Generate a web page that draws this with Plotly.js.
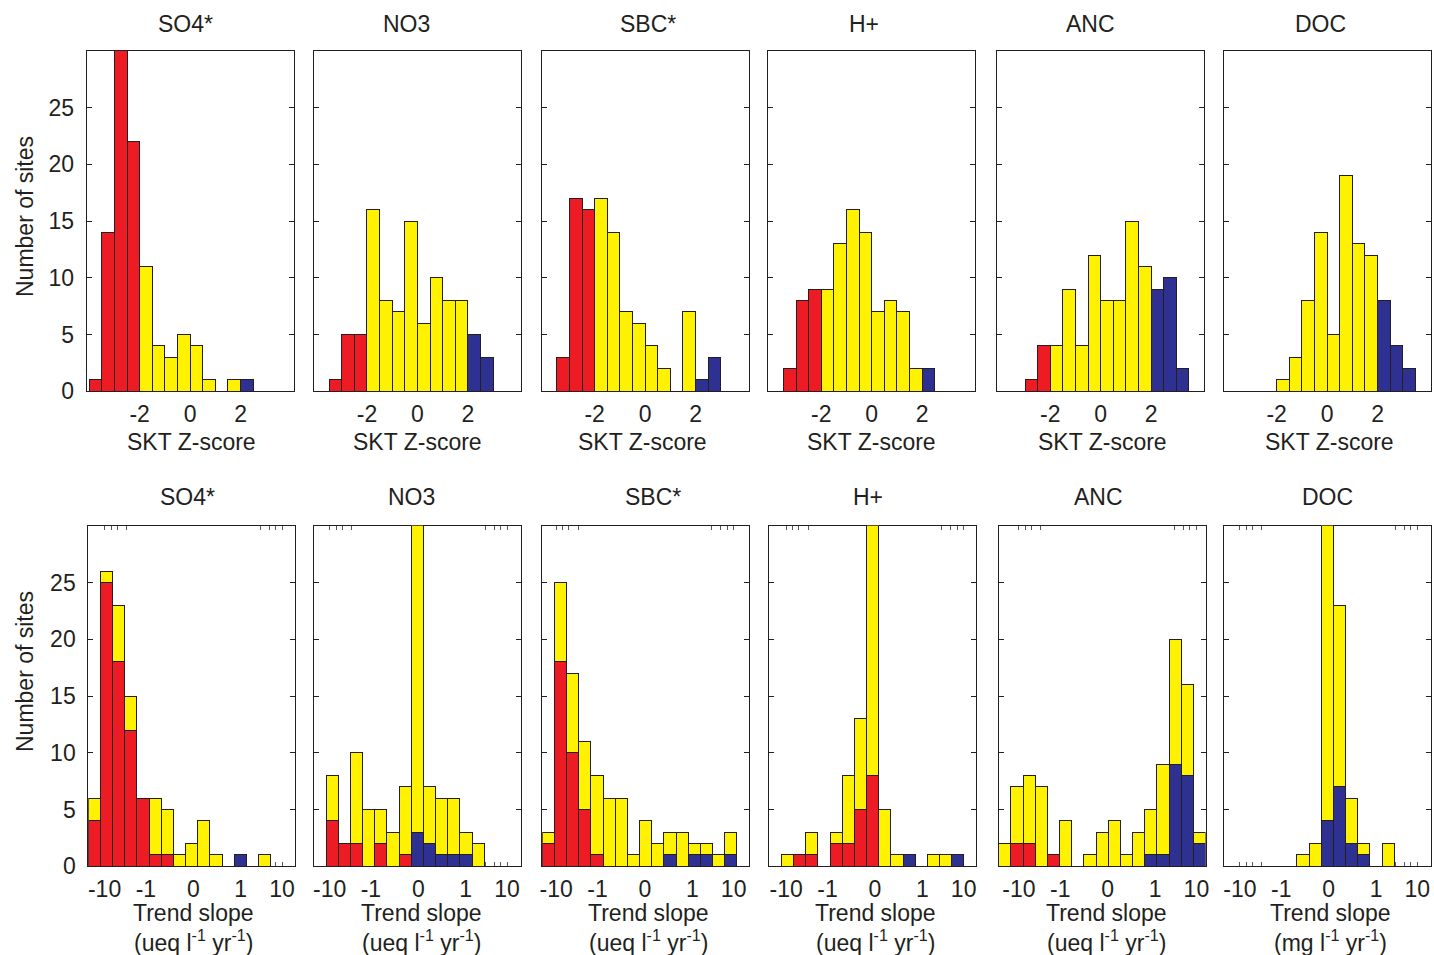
<!DOCTYPE html>
<html><head><meta charset="utf-8">
<script src="https://cdn.plot.ly/plotly-3.0.1.min.js"></script>
<style>html,body{margin:0;padding:0;background:#fff}</style>
</head><body><div id="chart" style="width:1434px;height:955px"></div>
<script>
// ---------------- DATA ----------------
const variables = ['SO4*', 'NO3', 'SBC*', 'H+', 'ANC', 'DOC'];
const trendUnits = ['(ueq l<sup>-1</sup> yr<sup>-1</sup>)', '(ueq l<sup>-1</sup> yr<sup>-1</sup>)',
  '(ueq l<sup>-1</sup> yr<sup>-1</sup>)', '(ueq l<sup>-1</sup> yr<sup>-1</sup>)',
  '(ueq l<sup>-1</sup> yr<sup>-1</sup>)', '(mg l<sup>-1</sup> yr<sup>-1</sup>)'];

// SKT Z-score histograms: 16 bins of 0.5 from -4 to 4
const zBinStart = -4, zBinWidth = 0.5;
const zSO4 = [1, 14, 32, 22, 11, 4, 3, 5, 4, 1, 0, 1, 1, 0, 0, 0];
const zNO3 = [0, 1, 5, 5, 16, 8, 7, 15, 6, 10, 8, 8, 5, 3, 0, 0];
const zSBC = [0, 3, 17, 16, 17, 14, 7, 6, 4, 2, 0, 7, 1, 3, 0, 0];
const zH   = [0, 2, 8, 9, 9, 13, 16, 14, 7, 8, 7, 2, 2, 0, 0, 0];
const zANC = [0, 0, 1, 4, 4, 9, 4, 12, 8, 8, 15, 11, 9, 10, 2, 0];
const zDOC = [0, 0, 0, 0, 1, 3, 8, 14, 5, 19, 13, 12, 8, 4, 2, 0];
const zTicks = [-2, 0, 2];

// Trend slope histograms: 17 bins; significant decrease / not significant / significant increase
const slopeTickValues = [-10, -1, 0, 1, 10];
const slopeTickLabels = ['-10', '-1', '0', '1', '10'];
const slopeMinorValues = [-10, -7, -5, -3, 3, 5, 7, 10];
const tSO4_down = [4, 25, 18, 12, 6, 1, 1, 0, 0, 0, 0, 0, 0, 0, 0, 0, 0];
const tSO4_ns   = [2, 1, 5, 3, 0, 5, 4, 1, 2, 4, 1, 0, 0, 0, 1, 0, 0];
const tSO4_up   = [0, 0, 0, 0, 0, 0, 0, 0, 0, 0, 0, 0, 1, 0, 0, 0, 0];
const tNO3_down = [0, 4, 2, 2, 0, 2, 0, 1, 0, 0, 0, 0, 0, 0, 0, 0, 0];
const tNO3_ns   = [0, 4, 0, 8, 5, 3, 3, 6, 29, 5, 5, 5, 2, 2, 0, 0, 0];
const tNO3_up   = [0, 0, 0, 0, 0, 0, 0, 0, 3, 2, 1, 1, 1, 0, 0, 0, 0];
const tSBC_down = [2, 18, 10, 5, 1, 0, 0, 0, 0, 0, 0, 0, 0, 0, 0, 0, 0];
const tSBC_ns   = [1, 7, 7, 6, 7, 6, 6, 1, 4, 2, 2, 3, 1, 1, 1, 2, 0];
const tSBC_up   = [0, 0, 0, 0, 0, 0, 0, 0, 0, 0, 1, 0, 1, 1, 0, 1, 0];
const tH_down   = [0, 0, 1, 1, 0, 2, 2, 5, 8, 0, 0, 0, 0, 0, 0, 0, 0];
const tH_ns     = [0, 1, 0, 2, 0, 1, 6, 8, 24, 5, 1, 0, 0, 1, 1, 0, 0];
const tH_up     = [0, 0, 0, 0, 0, 0, 0, 0, 0, 0, 0, 1, 0, 0, 0, 1, 0];
const tANC_down = [0, 2, 2, 0, 1, 0, 0, 0, 0, 0, 0, 0, 0, 0, 0, 0, 0];
const tANC_ns   = [2, 5, 6, 7, 0, 4, 0, 1, 3, 4, 1, 3, 4, 8, 11, 8, 1];
const tANC_up   = [0, 0, 0, 0, 0, 0, 0, 0, 0, 0, 0, 0, 1, 1, 9, 8, 2];
const tDOC_down = [0, 0, 0, 0, 0, 0, 0, 0, 0, 0, 0, 0, 0, 0, 0, 0, 0];
const tDOC_ns   = [0, 0, 0, 0, 0, 0, 1, 2, 28, 16, 4, 1, 0, 2, 0, 0, 0];
const tDOC_up   = [0, 0, 0, 0, 0, 0, 0, 0, 4, 7, 2, 1, 0, 0, 0, 0, 0];

// ---------------- CONFIG ----------------
const W = 1434, H = 955;
const RED = '#ED1C24', YEL = '#FFF200', BLU = '#2E3192', EDGE = '#231F20', TXT = '#231F20';
const FONT = 'Liberation Sans, Arial, Helvetica, sans-serif';
const FS = 23;
const topLeft = [86.7, 314, 541.7, 768.3, 997.3, 1223.7];
const botLeft = [88.3, 314, 542.3, 769.3, 998.7, 1224];
const panelW = 206.8;
const topRowY = [50.7, 391.3], botRowY = [525.7, 866.3];
const topTitleX = [185, 406, 648, 864, 1090, 1320];
const botTitleX = [187, 412, 653, 868, 1098, 1327];
const topLabelX = [192, 417, 642, 871, 1102, 1329];
const botLabelX = [193, 421, 648, 875, 1106, 1330];
// symmetric log-like transform of the trend axis
const slopeScale = v => Math.sign(v) * Math.log10(1 + 12 * Math.abs(v));
const slopeBinW = 0.2856;
const slopeAxisStart = [-2.465, -2.449, -2.410, -2.480, -2.559, -2.457];

const zData = [zSO4, zNO3, zSBC, zH, zANC, zDOC];
const tData = [[tSO4_down, tSO4_ns, tSO4_up], [tNO3_down, tNO3_ns, tNO3_up], [tSBC_down, tSBC_ns, tSBC_up],
  [tH_down, tH_ns, tH_up], [tANC_down, tANC_ns, tANC_up], [tDOC_down, tDOC_ns, tDOC_up]];

const nz = a => a.map(v => v === 0 ? null : v);
const traces = [];
const layout = {
  width: W, height: H, margin: {l: 0, r: 0, t: 0, b: 0},
  paper_bgcolor: '#fff', plot_bgcolor: '#fff',
  showlegend: false, barmode: 'stack', bargap: 0,
  font: {family: FONT, size: FS, color: TXT},
  annotations: []
};
const px = x => x / W, py = y => 1 - y / H;

function yAxisCfg(anchor, row, col) {
  const yr = row === 0 ? topRowY : botRowY;
  return {
    domain: [py(yr[1]), py(yr[0])], anchor: anchor, range: [0, 30], fixedrange: true,
    tickvals: [0, 5, 10, 15, 20, 25], ticks: 'inside', ticklen: 5, tickcolor: EDGE, layer: 'below traces',
    showline: true, linecolor: EDGE, linewidth: 1, mirror: 'ticks', showgrid: false, zeroline: false,
    showticklabels: col === 0, ticklabelstandoff: 7, tickfont: {size: FS, color: TXT}
  };
}

for (let c = 0; c < 6; c++) {
  // top row: SKT Z-score
  const i = c + 1, xa = 'x' + i, ya = 'y' + i;
  const centers = zData[c].map((_, k) => zBinStart + zBinWidth * (k + 0.5));
  const cols = centers.map(m => m < -2 ? RED : (m > 2 ? BLU : YEL));
  traces.push({type: 'bar', x: centers, y: nz(zData[c]), width: zBinWidth, xaxis: xa, yaxis: ya,
    marker: {color: cols, line: {color: EDGE, width: 1}}, hoverinfo: 'x+y'});
  layout['xaxis' + i] = {
    domain: [px(topLeft[c]), px(topLeft[c] + panelW)], anchor: ya, range: [-4.1, 4.1],
    tickvals: zTicks, ticktext: zTicks.map(String), ticks: '', showline: true, linecolor: EDGE, linewidth: 1,
    mirror: true, showgrid: false, zeroline: false, ticklabelstandoff: 2, tickfont: {size: FS, color: TXT}
  };
  layout['yaxis' + i] = yAxisCfg(xa, 0, c);

  // bottom row: trend slope
  const j = c + 7, xb = 'x' + j, yb = 'y' + j;
  const s0 = slopeAxisStart[c];
  const bc = tData[c][0].map((_, k) => s0 + slopeBinW * (k + 0.5));
  [[0, RED], [2, BLU], [1, YEL]].forEach(([idx, colr]) => {
    traces.push({type: 'bar', x: bc, y: nz(tData[c][idx]), width: slopeBinW, xaxis: xb, yaxis: yb,
      marker: {color: colr, line: {color: EDGE, width: 1}}, hoverinfo: 'y'});
  });
  layout['xaxis' + j] = {
    domain: [px(botLeft[c]), px(botLeft[c] + panelW)], anchor: yb, range: [s0, s0 + 17 * slopeBinW],
    tickvals: slopeTickValues.map(slopeScale), ticktext: slopeTickLabels, ticks: '', layer: 'below traces',
    minor: {tickvals: slopeMinorValues.map(slopeScale), ticks: 'inside', ticklen: 4, tickcolor: '#555', tickwidth: 1, showgrid: false},
    showline: true, linecolor: EDGE, linewidth: 1, mirror: 'ticks', showgrid: false, zeroline: false,
    ticklabelstandoff: 2, tickfont: {size: FS, color: TXT}
  };
  layout['yaxis' + j] = yAxisCfg(xb, 1, c);

  const ann = (x, y, text) => layout.annotations.push({xref: 'paper', yref: 'paper', x: px(x), y: py(y),
    text: text, showarrow: false, xanchor: 'center', yanchor: 'middle', font: {size: FS, color: TXT}});
  ann(topTitleX[c], 24, variables[c]);
  ann(topLabelX[c], 442, 'SKT Z-score');
  ann(botTitleX[c], 497, variables[c]);
  ann(botLabelX[c], 913, 'Trend slope');
  ann(botLabelX[c], 941, trendUnits[c]);
}
[[217], [672]].forEach(([y]) => layout.annotations.push({xref: 'paper', yref: 'paper', x: px(25), y: py(y),
  text: 'Number of sites', textangle: -90, showarrow: false, xanchor: 'center', yanchor: 'middle',
  font: {size: FS, color: TXT}}));

Plotly.newPlot('chart', traces, layout, {displayModeBar: false, staticPlot: true});
</script></body></html>
